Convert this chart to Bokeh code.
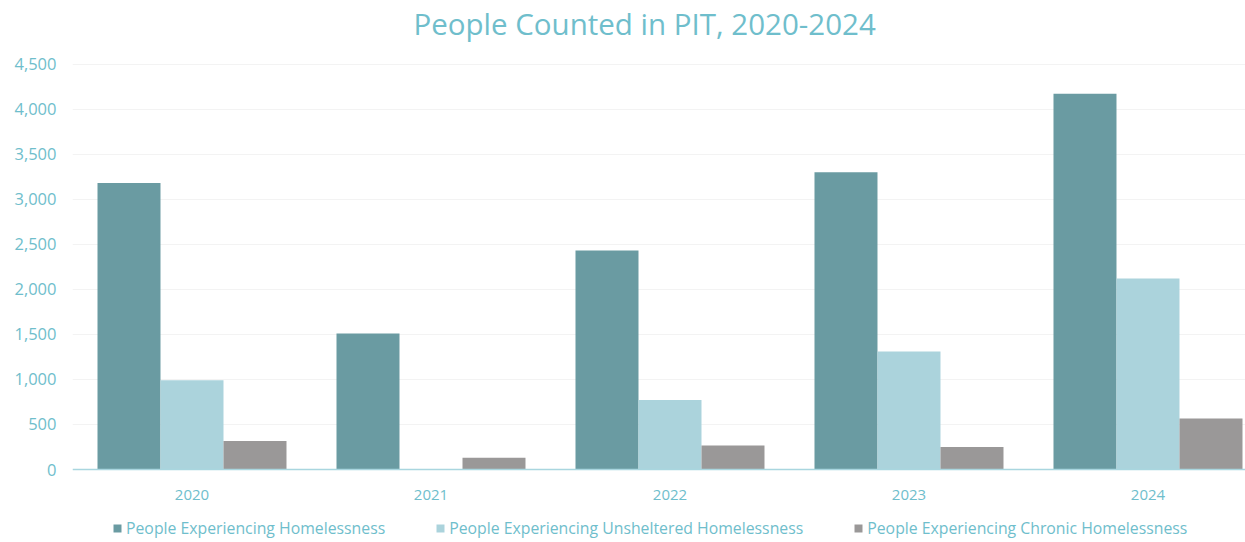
from bokeh.plotting import figure
from bokeh.models import (ColumnDataSource, Range1d, FixedTicker, NumeralTickFormatter,
                          Legend, LegendItem, Label, LabelSet, Span)
from bokeh.core.properties import value
from bokeh.transform import dodge
from bokeh.embed import file_html
from bokeh.resources import INLINE

years = ["2020", "2021", "2022", "2023", "2024"]
homeless = [3180, 1510, 2430, 3300, 4170]
unsheltered = [990, 0, 770, 1310, 2120]
chronic = [315, 130, 265, 250, 565]
series_names = ["People Experiencing Homelessness",
                "People Experiencing Unsheltered Homelessness",
                "People Experiencing Chronic Homelessness"]
y_ticks = [0, 500, 1000, 1500, 2000, 2500, 3000, 3500, 4000, 4500]
title_text = "People Counted in PIT, 2020-2024"

colors = ["#6a9ba2", "#abd3dc", "#9a9898"]
text_color = "#6fbecc"
FONT = "Open Sans"

x_idx = list(range(len(years)))
src = ColumnDataSource(dict(x=x_idx, year=years, homeless=homeless,
                            unsheltered=unsheltered, chronic=chronic))

# frame covers the full canvas height; value axis spans 0..4500 over 405.5 px
FW, FH = 1173, 542
px_per_unit = 405.5 / 4500
y_lo = -(542 - 469) / px_per_unit
y_hi = 4500 + 63.5 / px_per_unit

p = figure(frame_width=FW, frame_height=FH, output_backend="svg", toolbar_location=None,
           x_range=Range1d(-0.5, 4.408), y_range=Range1d(y_lo, y_hi),
           min_border_left=72, min_border_right=0, min_border_top=0, min_border_bottom=0)

title = Label(x=341, y=FH - 23, x_units="screen", y_units="screen",
              text=title_text, text_align="left", text_baseline="alphabetic",
              text_font=FONT, text_font_size="29.5px", text_color=text_color)
p.add_layout(title)

bw = 0.2636
keys = ["homeless", "unsheltered", "chronic"]
offsets = [-bw, 0.0, bw]
renderers = []
for k, off, c in zip(keys, offsets, colors):
    r = p.vbar(x=dodge("x", off), top=k, width=bw, bottom=0, source=src,
               fill_color=c, line_color=None)
    renderers.append(r)

# baseline (category axis line)
p.add_layout(Span(location=0, dimension="width", line_color="#a9d6df", line_width=1.5))

# category labels
year_labels = LabelSet(x="x", y=FH - 499.3, y_units="screen", text="year", source=src,
                       text_align="center", text_baseline="alphabetic",
                       text_font=value(FONT), text_font_size=value("15px"),
                       text_color=text_color)
p.add_layout(year_labels)

p.xaxis.visible = False

p.yaxis.ticker = FixedTicker(ticks=y_ticks)
p.yaxis.formatter = NumeralTickFormatter(format="0,0")
p.yaxis.major_tick_line_color = None
p.yaxis.major_tick_out = 0
p.yaxis.major_tick_in = 0
p.yaxis.minor_tick_line_color = None
p.yaxis.axis_line_color = None
p.yaxis.major_label_text_font = FONT
p.yaxis.major_label_text_font_size = "16.5px"
p.yaxis.major_label_text_color = text_color
p.yaxis.major_label_standoff = 16

p.xgrid.grid_line_color = None
p.ygrid.ticker = FixedTicker(ticks=y_ticks[1:])
p.ygrid.grid_line_color = "#f3f3f3"
p.ygrid.grid_line_width = 1
p.outline_line_color = None
p.background_fill_color = "white"
p.border_fill_color = "white"

legend = Legend(items=[LegendItem(label=n, renderers=[r]) for n, r in zip(series_names, renderers)],
                orientation="horizontal", location=(40, 3),
                glyph_width=10, glyph_height=10, label_standoff=4, spacing=50,
                label_height=20,
                label_text_font=FONT, label_text_font_size="15.8px",
                label_text_color=text_color, border_line_color=None,
                background_fill_alpha=0, padding=0, margin=0)
p.add_layout(legend, "center")

open("out.html", "w").write(file_html(p, INLINE))
